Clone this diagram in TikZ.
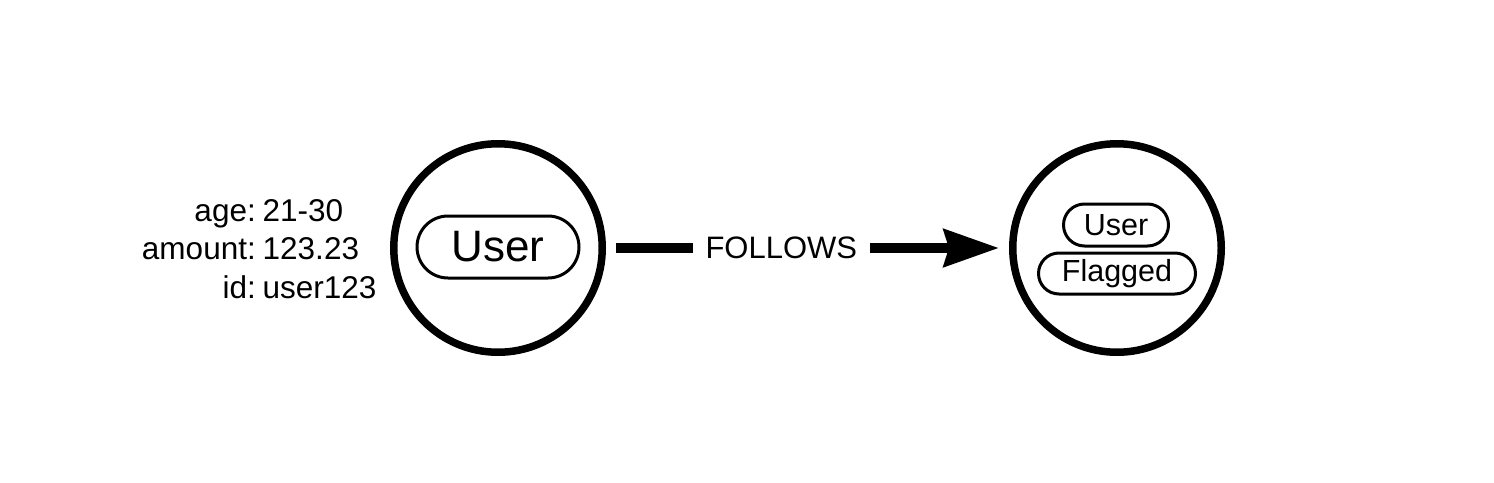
\documentclass[tikz,border=0pt]{standalone}
\usepackage{fontspec}
\setmainfont{Liberation Sans}
\usetikzlibrary{arrows.meta}
\newcommand\propfont{\fontsize{31.5pt}{31.5pt}\selectfont}
\newcommand\relfont{\fontsize{31pt}{31pt}\selectfont}
\newcommand\bigpillfont{\fontsize{44pt}{44pt}\selectfont}
\newcommand\smallpillfont{\fontsize{30.5pt}{30.5pt}\selectfont}
\begin{document}
\begin{tikzpicture}[x=1pt,y=-1pt,
  graphnode/.style={circle, draw=black, line width=7.5pt, minimum size=208.5pt, inner sep=0pt},
  pill/.style={draw=black, line width=3pt, inner sep=0pt},
  prop/.style={inner sep=0pt, font=\propfont},
  relation/.style={line width=10pt, -{Stealth[length=55pt,width=37pt,inset=5pt]}, shorten <=10pt, shorten >=10pt},
  rellabel/.style={fill=white, inner xsep=12.5pt, inner ysep=4pt, font=\relfont}]
\useasboundingbox (0,0) rectangle (1494,482);

\node[graphnode] (c1) at (498,248) {};
\node[graphnode] (c2) at (1117,248) {};

\node[pill, rounded corners=31pt, minimum width=162pt, minimum height=62pt, font=\bigpillfont] (l1) at (498,247) {User};

\node[pill, rounded corners=21pt, minimum width=105pt, minimum height=42pt, font=\smallpillfont] (l2) at (1116,225) {User};
\node[pill, rounded corners=20.5pt, minimum width=157pt, minimum height=41pt, font=\smallpillfont] (l3) at (1117,273.5) {Flagged};

\node[prop, anchor=base east] (k1) at (256,221) {age:};
\node[prop, anchor=base west] (v1) at (262.5,221) {21-30};
\node[prop, anchor=base east] (k2) at (256,259.5) {amount:};
\node[prop, anchor=base west] (v2) at (262.5,259.5) {123.23};
\node[prop, anchor=base east] (k3) at (256,298) {id:};
\node[prop, anchor=base west] (v3) at (262.5,298) {user123};

\draw[relation] (c1) -- node[rellabel, pos=0.435] (rl) {FOLLOWS} (c2);
\end{tikzpicture}
\end{document}
